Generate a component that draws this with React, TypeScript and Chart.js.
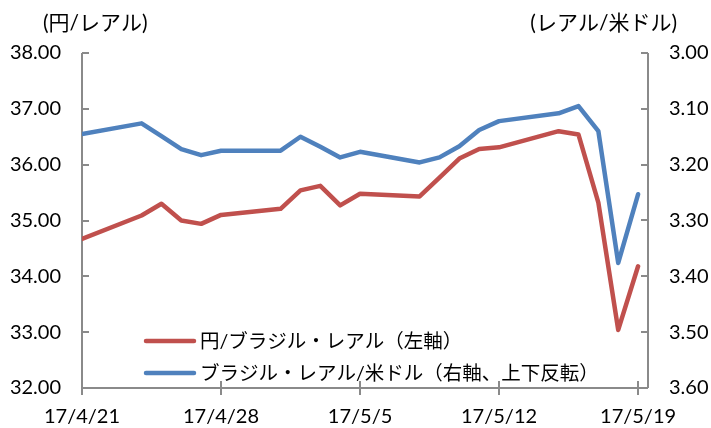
import { useEffect, useRef } from 'react';
import { Chart, registerables } from 'chart.js';

Chart.register(...registerables);

// ---- Data ----
const dates = [
  '2017-04-21', '2017-04-24', '2017-04-25', '2017-04-26', '2017-04-27', '2017-04-28',
  '2017-05-01', '2017-05-02', '2017-05-03', '2017-05-04', '2017-05-05',
  '2017-05-08', '2017-05-09', '2017-05-10', '2017-05-11', '2017-05-12',
  '2017-05-15', '2017-05-16', '2017-05-17', '2017-05-18', '2017-05-19',
];
const jpyPerBrl = [
  34.67, 35.09, 35.30, 35.00, 34.94, 35.10,
  35.21, 35.54, 35.62, 35.27, 35.48,
  35.43, 35.77, 36.11, 36.28, 36.31,
  36.60, 36.54, 35.32, 33.04, 34.18,
];
const brlPerUsd = [
  3.145, 3.126, 3.149, 3.172, 3.183, 3.175,
  3.175, 3.150, 3.168, 3.187, 3.177,
  3.196, 3.187, 3.167, 3.138, 3.122,
  3.108, 3.095, 3.140, 3.376, 3.253,
];
const seriesLabels = ['円/ブラジル・レアル（左軸）', 'ブラジル・レアル/米ドル（右軸、上下反転）'];
const seriesColors = ['#C0504D', '#4F81BD'];
const xTickDates = ['2017-04-21', '2017-04-28', '2017-05-05', '2017-05-12', '2017-05-19'];
const xTickLabels = ['17/4/21', '17/4/28', '17/5/5', '17/5/12', '17/5/19'];
const leftAxisTitle = '(円/レアル)';
const rightAxisTitle = '(レアル/米ドル)';
const leftRange = [32, 38];
const rightRange = [3.0, 3.6];

const DAY = 86400000;
const t0 = Date.parse(dates[0]);
const dayOf = (d: string) => Math.round((Date.parse(d) - t0) / DAY);

const FONT_FAMILY = "Lato, 'Noto Sans CJK JP', sans-serif";
const AXIS_COLOR = '#8a8a8a';

const axesPlugin = {
  id: 'excelAxes',
  beforeDatasetsDraw(chart: any) {
    const { ctx, chartArea } = chart;
    const { left, right, bottom, top } = chartArea;
    const yL = chart.scales.y;
    const yR = chart.scales.y1;
    const x = chart.scales.x;
    ctx.save();
    ctx.strokeStyle = AXIS_COLOR;
    ctx.lineWidth = 2;
    ctx.beginPath();
    ctx.moveTo(left, top);
    ctx.lineTo(left, bottom + 7);
    ctx.moveTo(right, top);
    ctx.lineTo(right, bottom);
    ctx.moveTo(left, bottom);
    ctx.lineTo(right, bottom);
    yL.ticks.forEach((t: any) => {
      const py = Math.round(yL.getPixelForValue(t.value));
      ctx.moveTo(left, py);
      ctx.lineTo(left + 7, py);
    });
    yR.ticks.forEach((t: any) => {
      const py = Math.round(yR.getPixelForValue(t.value));
      ctx.moveTo(right, py);
      ctx.lineTo(right - 7, py);
    });
    x.ticks.forEach((t: any) => {
      const px = Math.round(x.getPixelForValue(t.value));
      ctx.moveTo(px, bottom - 7);
      ctx.lineTo(px, bottom + 7);
    });
    ctx.stroke();
    ctx.restore();
  },
  afterDraw(chart: any) {
    const { ctx, width } = chart;
    ctx.save();
    ctx.fillStyle = '#000';
    ctx.font = `21px ${FONT_FAMILY}`;
    ctx.textBaseline = 'middle';
    ctx.textAlign = 'left';
    ctx.fillText(leftAxisTitle, 43, 23);
    ctx.textAlign = 'right';
    ctx.fillText(rightAxisTitle, width - 34, 23);
    ctx.textAlign = 'left';
    ctx.font = `19.5px ${FONT_FAMILY}`;
    const rows = [341, 373];
    chart.data.datasets.forEach((ds: any, i: number) => {
      const y = rows[i];
      ctx.strokeStyle = ds.borderColor;
      ctx.lineWidth = 4.5;
      ctx.lineCap = 'round';
      ctx.beginPath();
      ctx.moveTo(146, y);
      ctx.lineTo(194, y);
      ctx.stroke();
      ctx.fillStyle = '#000';
      ctx.fillText(ds.label, 200, y + 1);
    });
    ctx.restore();
  },
};

export default function App() {
  const ref = useRef<HTMLCanvasElement | null>(null);
  useEffect(() => {
    document.body.style.margin = '0';
    const canvas = ref.current!;
    const xs = dates.map(dayOf);
    const tickDays = xTickDates.map(dayOf);
    const tickFont = { family: FONT_FAMILY, size: 20 };
    const chart = new Chart(canvas, {
      type: 'line',
      data: {
        datasets: [
          {
            label: seriesLabels[0],
            data: xs.map((d, i) => ({ x: d, y: jpyPerBrl[i] })),
            borderColor: seriesColors[0],
            backgroundColor: seriesColors[0],
            borderWidth: 4.5,
            pointRadius: 0,
            tension: 0,
            borderJoinStyle: 'round',
            borderCapStyle: 'round',
            yAxisID: 'y',
          },
          {
            label: seriesLabels[1],
            data: xs.map((d, i) => ({ x: d, y: brlPerUsd[i] })),
            borderColor: seriesColors[1],
            backgroundColor: seriesColors[1],
            borderWidth: 4.5,
            pointRadius: 0,
            tension: 0,
            borderJoinStyle: 'round',
            borderCapStyle: 'round',
            yAxisID: 'y1',
          },
        ],
      },
      options: {
        animation: false,
        responsive: false,
        layout: { padding: { top: 53, left: 0, right: 0, bottom: 0 } },
        plugins: { legend: { display: false }, tooltip: { enabled: false } },
        scales: {
          x: {
            type: 'linear',
            min: 0,
            max: tickDays[tickDays.length - 1] + 0.5,
            afterBuildTicks: (axis: any) => {
              axis.ticks = tickDays.map((v) => ({ value: v }));
            },
            afterFit: (axis: any) => {
              axis.height = 40;
            },
            grid: { display: false, drawTicks: false, tickLength: 0 },
            border: { display: false },
            ticks: {
              color: '#000',
              font: tickFont,
              padding: 17,
              maxRotation: 0,
              autoSkip: false,
              callback: (v: any) => {
                const idx = tickDays.indexOf(Number(v));
                return idx >= 0 ? xTickLabels[idx] : '';
              },
            },
          },
          y: {
            position: 'left',
            min: leftRange[0],
            max: leftRange[1],
            afterFit: (axis: any) => {
              axis.width = 82;
            },
            grid: { display: false, drawTicks: false, tickLength: 0 },
            border: { display: false },
            ticks: {
              stepSize: 1,
              color: '#000',
              font: tickFont,
              padding: 21,
              callback: (v: any) => Number(v).toFixed(2),
            },
          },
          y1: {
            position: 'right',
            reverse: true,
            min: rightRange[0],
            max: rightRange[1],
            afterFit: (axis: any) => {
              axis.width = 63;
            },
            grid: { display: false, drawTicks: false, tickLength: 0 },
            border: { display: false },
            ticks: {
              stepSize: 0.1,
              color: '#000',
              font: tickFont,
              padding: 21,
              callback: (v: any) => Number(v).toFixed(2),
            },
          },
        },
      },
      plugins: [axesPlugin],
    } as any);
    return () => chart.destroy();
  }, []);
  return (
    <div style={{ width: 711, height: 428, background: '#fff' }}>
      <canvas ref={ref} width={711} height={428} style={{ display: 'block' }} />
    </div>
  );
}
